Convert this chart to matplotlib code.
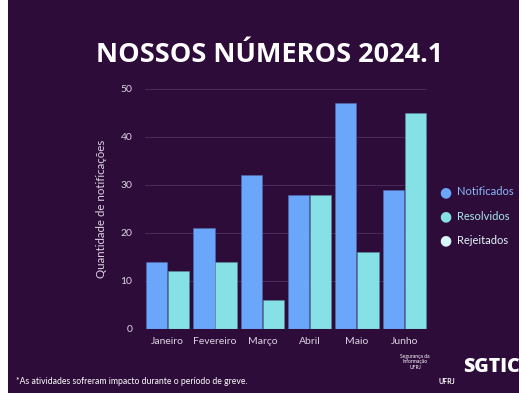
import numpy as np
import matplotlib
matplotlib.use('Agg')
import matplotlib.pyplot as plt
from matplotlib.patches import Rectangle

meses = ['Janeiro', 'Fevereiro', 'Março', 'Abril', 'Maio', 'Junho']
notificados = [14, 21, 32, 28, 47, 29]
resolvidos = [12, 14, 6, 28, 16, 45]
rejeitados = [0, 0, 0, 0, 0, 0]
series_nomes = ['Notificados', 'Resolvidos', 'Rejeitados']
yticks = [0, 10, 20, 30, 40, 50]

bg = '#2e0c3a'
azul = '#6aa6fa'
ciano = '#86e1e6'
claro = '#d9f6fa'

plt.rcParams['font.family'] = ['Lato', 'DejaVu Sans']

fig = plt.figure(figsize=(5.19, 3.93), dpi=100, facecolor='white')
# fundo roxo (faixa branca a esquerda)
fig.patches.append(Rectangle((8 / 519, 0), 1, 1, transform=fig.transFigure,
                             facecolor=bg, edgecolor='none', zorder=-10))

ax = fig.add_axes([145 / 519, 1 - 329 / 393, 282 / 519, 240 / 393])
ax.set_facecolor(bg)
x = np.arange(len(meses))
w = 0.45
ax.bar(x - 0.235, notificados, w, color=azul, edgecolor='#5468b0', linewidth=0.4, zorder=3)
ax.bar(x + 0.235, resolvidos, w, color=ciano, edgecolor='#5a8aa0', linewidth=0.4, zorder=3)
ax.bar(x, rejeitados, w, color=claro, zorder=3)

ax.set_xlim(-0.48, 5.48)
ax.set_ylim(0, 50)
ax.set_yticks(yticks)
ax.set_xticks(x)
ax.set_xticklabels(meses)
for s in ax.spines.values():
    s.set_visible(False)
ax.grid(axis='y', color='#4a2a5a', linewidth=0.7, zorder=0)
ax.axhline(0, color='#6a5580', linewidth=0.8, zorder=4)
ax.tick_params(length=0, colors='#dcd4e2', labelsize=7.5)
ax.tick_params(axis='y', pad=9)
ax.tick_params(axis='x', pad=6)
ax.set_ylabel('Quantidade de notificações', color='#dcd4e2', fontsize=8.3, labelpad=10)

# legenda
cores = [azul, ciano, claro]
cores_txt = ['#8ab8fa', '#a8e8ec', '#e2f6fa']
for i, (nome, c, ct) in enumerate(zip(series_nomes, cores, cores_txt)):
    yy = 1 - (192 + 24 * i) / 393
    fig.text(445 / 519, yy, '\u25cf', color=c, fontsize=10, ha='center', va='center',
             family=['DejaVu Sans'])
    fig.text(457 / 519, yy, nome, color=ct, fontsize=8, va='center')

fig.text(270 / 519, 1 - 55 / 393, 'NOSSOS NÚMEROS 2024.1', color='white',
         fontsize=19.5, fontweight='bold', ha='center', va='center',
         family=['Open Sans', 'DejaVu Sans'])

fig.text(16 / 519, 1 - 381 / 393, '*As atividades sofreram impacto durante o período de greve.',
         color='white', fontsize=6.2, va='center')

# logos (aproximação em texto)
fig.text(415 / 519, 1 - 362 / 393, 'Segurança da\nInformação\nUFRJ', color='white',
         fontsize=3.6, ha='center', va='center', linespacing=1.1)
fig.text(447 / 519, 1 - 381 / 393, 'UFRJ', color='white', fontsize=5,
         fontweight='bold', ha='center', va='center')
fig.text(463 / 519, 1 - 367 / 393, 'SGTIC', color='white', fontsize=14,
         fontweight='heavy', ha='left', va='center', family=['Open Sans', 'DejaVu Sans'])

fig.savefig('out.png', dpi=100, facecolor='white')
